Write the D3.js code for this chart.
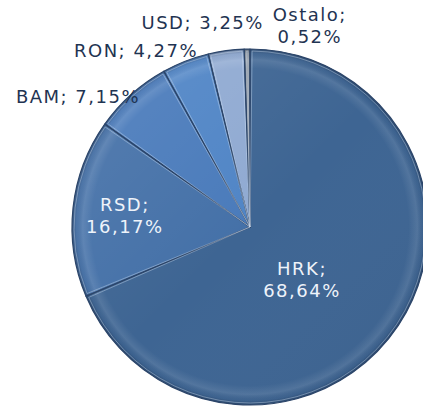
<!DOCTYPE html>
<html>
<head>
<meta charset="utf-8">
<script src="https://cdn.jsdelivr.net/npm/d3@7"></script>
<style>
  body { margin: 0; background: #fff; }
  svg { display: block; }
</style>
</head>
<body>
<div id="wrapper"></div>
<script>
// currency share (%)
const currencies = ['HRK', 'RSD', 'BAM', 'RON', 'USD', 'Ostalo'];
const shares = [68.64, 16.17, 7.15, 4.27, 3.25, 0.52];
const shareLabels = ['68,64%', '16,17%', '7,15%', '4,27%', '3,25%', '0,52%'];

const sliceColors = ['#3e6593', '#4571a8', '#4a7bbb', '#5085c6', '#90aad2', '#8a929c'];
// label placement: radius fraction, nudge x/y, two lines?
const labelRadius = [0.6, 0.6, 1.1, 1.1, 1.1, 1.1];
const labelNudge = [[-37, -6.5], [-19, 0.5], [-41.5, 15], [-43, 6.4], [-21, -10], [63, -6]];
const labelTwoLines = [true, true, false, false, false, true];

const width = 423;
const height = 407;
const cx = 250, cy = 227, radius = 178;

const svg = d3.select('#wrapper')
  .append('svg')
  .attr('width', width)
  .attr('height', height);

const defs = svg.append('defs');

// rim shading, centred on the pie (gradients use the g's coords)
const rim = defs.append('radialGradient')
  .attr('id', 'rim')
  .attr('gradientUnits', 'userSpaceOnUse')
  .attr('cx', 0).attr('cy', 0).attr('r', radius);
rim.append('stop').attr('offset', '0%').attr('stop-color', '#fff').attr('stop-opacity', 0);
rim.append('stop').attr('offset', '89%').attr('stop-color', '#fff').attr('stop-opacity', 0);
rim.append('stop').attr('offset', '94%').attr('stop-color', '#fff').attr('stop-opacity', 0.1);
rim.append('stop').attr('offset', '97.5%').attr('stop-color', '#0a1a33').attr('stop-opacity', 0.05);
rim.append('stop').attr('offset', '100%').attr('stop-color', '#0a1a33').attr('stop-opacity', 0.4);

// light from top-left
const light = defs.append('linearGradient')
  .attr('id', 'light')
  .attr('gradientUnits', 'userSpaceOnUse')
  .attr('x1', -radius).attr('y1', -radius)
  .attr('x2', radius).attr('y2', radius);
light.append('stop').attr('offset', '0%').attr('stop-color', '#fff').attr('stop-opacity', 0.1);
light.append('stop').attr('offset', '50%').attr('stop-color', '#fff').attr('stop-opacity', 0);
light.append('stop').attr('offset', '100%').attr('stop-color', '#000').attr('stop-opacity', 0.05);

const pie = d3.pie().sort(null).value(d => d);
const arcs = pie(shares);

const arc = d3.arc().innerRadius(0).outerRadius(radius);

const g = svg.append('g')
  .attr('transform', 'translate(' + cx + ',' + cy + ')');

// slices
g.selectAll('path.slice')
  .data(arcs)
  .enter()
  .append('path')
  .attr('class', 'slice')
  .attr('d', arc)
  .attr('fill', (d, i) => sliceColors[i]);

// shading overlays
g.selectAll('path.rim')
  .data(arcs)
  .enter()
  .append('path')
  .attr('class', 'rim')
  .attr('d', arc)
  .attr('fill', 'url(#rim)');

g.selectAll('path.light')
  .data(arcs)
  .enter()
  .append('path')
  .attr('class', 'light')
  .attr('d', arc)
  .attr('fill', 'url(#light)');

// slice edges: dark seam plus light bevel
g.selectAll('path.seam')
  .data(arcs)
  .enter()
  .append('path')
  .attr('class', 'seam')
  .attr('d', arc)
  .attr('fill', 'none')
  .attr('stroke', '#2c4569')
  .attr('stroke-width', 1.2)
  .attr('stroke-linejoin', 'round');

const inner = d3.arc().innerRadius(0).outerRadius(radius - 2);
g.selectAll('path.bevel')
  .data(arcs)
  .enter()
  .append('path')
  .attr('class', 'bevel')
  .attr('d', d => inner({ startAngle: d.startAngle + 0.012, endAngle: d.endAngle - 0.012 }))
  .attr('fill', 'none')
  .attr('stroke', '#d3e0f2')
  .attr('stroke-opacity', 0.4)
  .attr('stroke-width', 1);

// labels
const lineH = 22;
arcs.forEach((d, i) => {
  const mid = (d.startAngle + d.endAngle) / 2;
  const p = d3.pointRadial(mid, radius * labelRadius[i]);
  const x = p[0] + labelNudge[i][0];
  const yc = p[1] + labelNudge[i][1];
  const lines = labelTwoLines[i]
    ? [currencies[i] + ';', shareLabels[i]]
    : [currencies[i] + '; ' + shareLabels[i]];
  const inside = labelRadius[i] < 1;

  const t = g.append('text')
    .attr('x', x)
    .attr('y', yc - (lines.length - 1) * lineH / 2 + 6.5)
    .attr('text-anchor', 'middle')
    .style('font-family', '"DejaVu Sans", Verdana, sans-serif')
    .style('font-size', '18px')
    .style('letter-spacing', '1.5px')
    .attr('fill', inside ? '#eef3fa' : '#1f3452');

  lines.forEach((s, k) => {
    t.append('tspan')
      .attr('x', x)
      .attr('dy', k === 0 ? 0 : lineH)
      .text(s);
  });
});
</script>
</body>
</html>
